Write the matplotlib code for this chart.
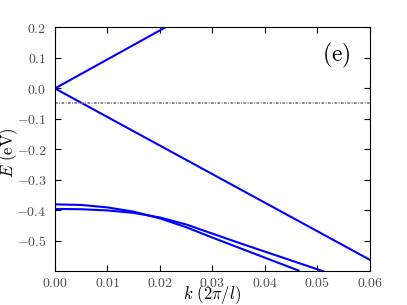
import matplotlib
matplotlib.use("Agg")
from matplotlib import pyplot as plt
from matplotlib.ticker import FuncFormatter

plt.rcParams["mathtext.fontset"] = "cm"
plt.rcParams["font.family"] = "serif"
plt.rcParams["font.serif"] = ["DejaVu Serif"]

# linear branches through the origin
k_up = [0.0, 0.021]
E_up = [0.0, 0.2]
k_down = [0.0, 0.06]
E_down = [0.0, -0.562]

# two lower bands
k_a = [0.0, 0.005, 0.010, 0.015, 0.020, 0.025, 0.030, 0.035, 0.040, 0.0464]
E_a = [-0.380, -0.382, -0.390, -0.404, -0.426, -0.455, -0.489, -0.522, -0.555, -0.597]
k_b = [0.0, 0.005, 0.010, 0.015, 0.020, 0.025, 0.030, 0.035, 0.040, 0.045, 0.050, 0.052]
E_b = [-0.395, -0.396, -0.400, -0.408, -0.423, -0.446, -0.476, -0.506, -0.535, -0.564, -0.593, -0.605]

fermi = -0.048

xticks = [0.00, 0.01, 0.02, 0.03, 0.04, 0.05, 0.06]
yticks = [-0.5, -0.4, -0.3, -0.2, -0.1, 0.0, 0.1, 0.2]

fig = plt.figure(figsize=(4.07, 3.05), dpi=100)
ax = fig.add_axes([0.135, 0.113, 0.774, 0.797])

blue = "#0000ff"
ax.plot(k_up, E_up, color=blue, lw=1.5)
ax.plot(k_down, E_down, color=blue, lw=1.5)
ax.plot(k_a, E_a, color=blue, lw=1.5)
ax.plot(k_b, E_b, color=blue, lw=1.5)
ax.axhline(fermi, color="0.45", lw=1.2, linestyle=(0, (1.6, 0.9, 0.5, 0.9)))

ax.set_xlim(0, 0.06)
ax.set_ylim(-0.597, 0.2)
ax.set_xticks(xticks)
ax.set_yticks(yticks)
ax.xaxis.set_major_formatter(FuncFormatter(lambda v, p: r"$%.2f$" % v))
ax.yaxis.set_major_formatter(FuncFormatter(lambda v, p: r"$%.1f$" % (0.0 if abs(v) < 1e-9 else v)))
ax.tick_params(direction="in", top=True, right=True, length=4, labelsize=10,
               labelcolor="0.3")
ax.tick_params(axis="x", pad=4)
ax.tick_params(axis="y", pad=6)

fig.text(212 / 407, 1 - 295 / 305, r"$k\ (2\pi/l)$", fontsize=12,
         ha="center", va="center")
fig.text(9 / 407, 1 - 153 / 305, r"$E\ (\mathrm{eV})$", fontsize=12,
         ha="center", va="center", rotation=90)
ax.text(0.893, 0.885, r"$\mathrm{(e)}$", transform=ax.transAxes, fontsize=17,
        ha="center", va="center")

fig.savefig("out.png", dpi=100)
